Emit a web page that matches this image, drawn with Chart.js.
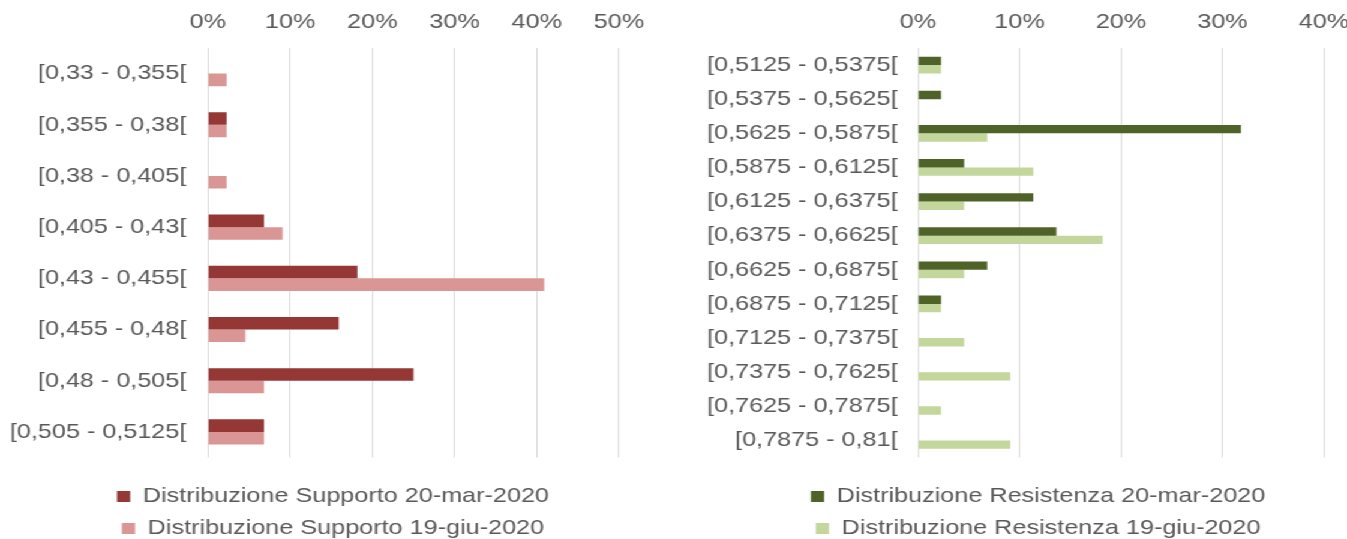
<!DOCTYPE html>
<html>
<head>
<meta charset="utf-8">
<script src="https://cdn.jsdelivr.net/npm/chart.js@4.4.1/dist/chart.umd.min.js"></script>
<style>
html,body{margin:0;padding:0;width:1347px;height:539px;overflow:hidden;background:#ffffff;}
#stage{position:absolute;left:0;top:0;width:1175px;height:549px;transform:scaleX(1.2);transform-origin:0 0;}
#c1{position:absolute;left:0;top:0;width:564px;height:549px;}
#c2{position:absolute;left:575px;top:0;width:596px;height:549px;}
</style>
</head>
<body>
<div id="stage">
<canvas id="c1" width="564" height="549"></canvas>
<canvas id="c2" width="596" height="549"></canvas>
</div>
<script>
// ---- Data ----
const supportoCategories = ['[0,33 - 0,355[', '[0,355 - 0,38[', '[0,38 - 0,405[', '[0,405 - 0,43[', '[0,43 - 0,455[', '[0,455 - 0,48[', '[0,48 - 0,505[', '[0,505 - 0,5125['];
const supportoMar = [0, 2.27, 0, 6.82, 18.18, 15.91, 25.0, 6.82];
const supportoGiu = [2.27, 2.27, 2.27, 9.09, 40.91, 4.55, 6.82, 6.82];

const resistenzaCategories = ['[0,5125 - 0,5375[', '[0,5375 - 0,5625[', '[0,5625 - 0,5875[', '[0,5875 - 0,6125[', '[0,6125 - 0,6375[', '[0,6375 - 0,6625[', '[0,6625 - 0,6875[', '[0,6875 - 0,7125[', '[0,7125 - 0,7375[', '[0,7375 - 0,7625[', '[0,7625 - 0,7875[', '[0,7875 - 0,81['];
const resistenzaMar = [2.27, 2.27, 31.82, 4.55, 11.36, 13.64, 6.82, 2.27, 0, 0, 0, 0];
const resistenzaGiu = [2.27, 0, 6.82, 11.36, 4.55, 18.18, 4.55, 2.27, 4.55, 9.09, 2.27, 9.09];

const seriesNames = {
  supportoMar: 'Distribuzione Supporto 20-mar-2020',
  supportoGiu: 'Distribuzione Supporto 19-giu-2020',
  resistenzaMar: 'Distribuzione Resistenza 20-mar-2020',
  resistenzaGiu: 'Distribuzione Resistenza 19-giu-2020'
};

const FONT = "'Liberation Sans', Arial, sans-serif";
const TEXT = '#595959';

function makeChart(id, labels, d1, d2, names, colors, xMax, padR, yWidth, y2Width, yPad) {
  return new Chart(document.getElementById(id), {
    type: 'bar',
    data: {
      labels: labels,
      datasets: [
        { label: names[0], data: d1, backgroundColor: colors[0], borderWidth: 0, categoryPercentage: 0.49, barPercentage: 1.0 },
        { label: names[1], data: d2, backgroundColor: colors[1], borderWidth: 0, categoryPercentage: 0.49, barPercentage: 1.0 }
      ]
    },
    options: {
      indexAxis: 'y',
      responsive: false,
      animation: false,
      layout: { padding: { left: 0, right: padR, top: 0, bottom: 0 } },
      scales: {
        x: {
          position: 'top',
          min: 0,
          max: xMax,
          ticks: { stepSize: 10, color: TEXT, font: { family: FONT, size: 21 }, padding: 13, callback: v => v + '%' },
          grid: { color: '#d9d9d9', lineWidth: 1, drawTicks: false },
          border: { display: false },
          afterFit: s => { s.height = 48; }
        },
        y: {
          ticks: { color: TEXT, font: { family: FONT, size: 21 }, padding: yPad, autoSkip: false },
          grid: { display: false, drawTicks: false },
          border: { display: false },
          afterFit: s => { s.width = yWidth; }
        },
        y2: {
          type: 'linear',
          position: 'right',
          display: true,
          grid: { display: false, drawTicks: false },
          ticks: { display: false },
          border: { display: false },
          afterFit: s => { s.width = y2Width; }
        }
      },
      plugins: {
        tooltip: { enabled: false },
        legend: {
          position: 'bottom',
          align: 'center',
          title: { display: true, text: '', font: { size: 10, lineHeight: 1.2 }, padding: { top: 5.5, bottom: 0, left: 0, right: 0 } },
          labels: { boxWidth: 11, boxHeight: 11, padding: 11, color: TEXT, font: { family: FONT, size: 21 } }
        }
      }
    }
  });
}

makeChart('c1', supportoCategories, supportoMar, supportoGiu,
  [seriesNames.supportoMar, seriesNames.supportoGiu], ['#953735', '#da9694'],
  50, 9, 173.3, 39.2, 18);

makeChart('c2', resistenzaCategories, resistenzaMar, resistenzaGiu,
  [seriesNames.resistenzaMar, seriesNames.resistenzaGiu], ['#4f6228', '#c3d69b'],
  40, 15.8, 190, 51.9, 17);
</script>
</body>
</html>
